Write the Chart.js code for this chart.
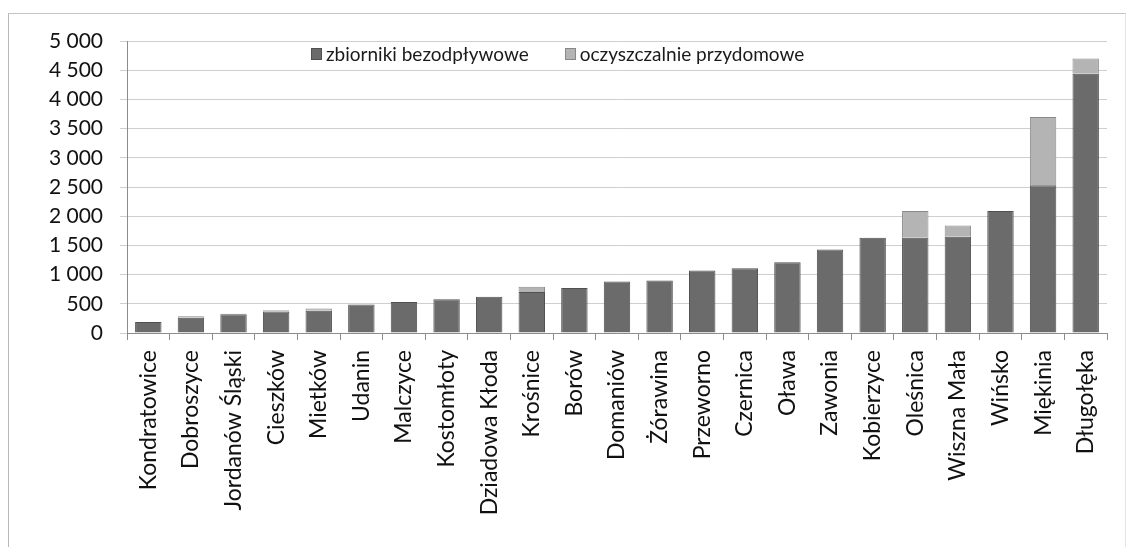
<!DOCTYPE html>
<html>
<head>
<meta charset="utf-8">
<script src="https://cdn.jsdelivr.net/npm/chart.js@4"></script>
<style>
  body { margin: 0; background: #fff; font-family: Lato, sans-serif; }
  .wrap { position: relative; width: 1132px; height: 547px; }
  .frame { position: absolute; left: 8px; top: 13px; width: 1116px; height: 540px;
           border-left: 1px solid #b8b8b8; border-top: 1px solid #c4c4c4; border-right: 1px solid #e4e4e4; }
  .legend { position: absolute; top: 42px; left: 311px; display: flex; gap: 36px;
            font-size: 19px; color: #1a1a1a; }
  .legend span { display: flex; align-items: center; }
  .legend i { display: inline-block; width: 9px; height: 10px; margin-right: 4px; }
</style>
</head>
<body>
<div class="wrap">
  <div class="frame"></div>
  <canvas class="stack-chart" width="1132" height="547"></canvas>
  <div class="legend">
    <span><i style="background:#6b6b6b;border:1px solid #505050"></i>zbiorniki bezodpływowe</span>
    <span><i style="background:#b4b4b4;border:1px solid #888"></i>oczyszczalnie przydomowe</span>
  </div>
</div>
<script>
const gminy = ['Kondratowice', 'Dobroszyce', 'Jordanów Śląski', 'Cieszków', 'Mietków', 'Udanin',
    'Malczyce', 'Kostomłoty', 'Dziadowa Kłoda', 'Krośnice', 'Borów', 'Domaniów', 'Żórawina',
    'Przeworno', 'Czernica', 'Oława', 'Zawonia', 'Kobierzyce', 'Oleśnica', 'Wiszna Mała',
    'Wińsko', 'Miękinia', 'Długołęka'];
const zbiorniki = [190, 260, 320, 370, 380, 490, 530, 580, 620, 700, 770, 880, 900,
    1070, 1110, 1210, 1430, 1630, 1630, 1650, 2090, 2530, 4440];
const oczyszczalnie = [0, 25, 10, 20, 40, 0, 0, 0, 0, 90, 0, 0, 0,
    0, 0, 0, 0, 0, 460, 190, 0, 1170, 260];

const ctx = document.querySelector('.stack-chart');
const fmt = v => String(v).replace(/\B(?=(\d{3})+(?!\d))/g, ' ');

new Chart(ctx, {
    type: 'bar',
    data: {
        labels: gminy,
        datasets: [{
            label: 'zbiorniki bezodpływowe',
            data: zbiorniki,
            backgroundColor: '#6b6b6b',
            borderColor: '#505050',
            borderWidth: 1,
            barPercentage: 0.62,
            categoryPercentage: 1
        },
        {
            label: 'oczyszczalnie przydomowe',
            data: oczyszczalnie,
            backgroundColor: '#b4b4b4',
            borderColor: '#8a8a8a',
            borderWidth: 1,
            barPercentage: 0.62,
            categoryPercentage: 1
        }]
    },
    options: {
        responsive: false,
        animation: false,
        layout: {
            padding: { top: 41, right: 25, left: 0, bottom: 0 }
        },
        scales: {
            x: {
                stacked: true,
                afterFit: s => { s.height = 214; },
                border: { display: true, color: '#8c8c8c' },
                grid: {
                    drawOnChartArea: false,
                    tickLength: 7,
                    color: '#8c8c8c'
                },
                ticks: {
                    minRotation: 90,
                    maxRotation: 90,
                    autoSkip: false,
                    padding: 10,
                    color: '#111',
                    font: { family: 'Lato', size: 23 }
                }
            },
            y: {
                stacked: true,
                min: 0,
                max: 5000,
                afterFit: s => { s.width = 127; },
                border: { display: true, color: '#8c8c8c' },
                grid: {
                    color: '#cfcfcf',
                    tickLength: 7
                },
                ticks: {
                    stepSize: 500,
                    padding: 17,
                    color: '#111',
                    font: { family: 'Lato', size: 21 },
                    callback: v => fmt(v)
                }
            }
        },
        plugins: {
            legend: { display: false },
            tooltip: { enabled: false }
        }
    }
});
</script>
</body>
</html>
